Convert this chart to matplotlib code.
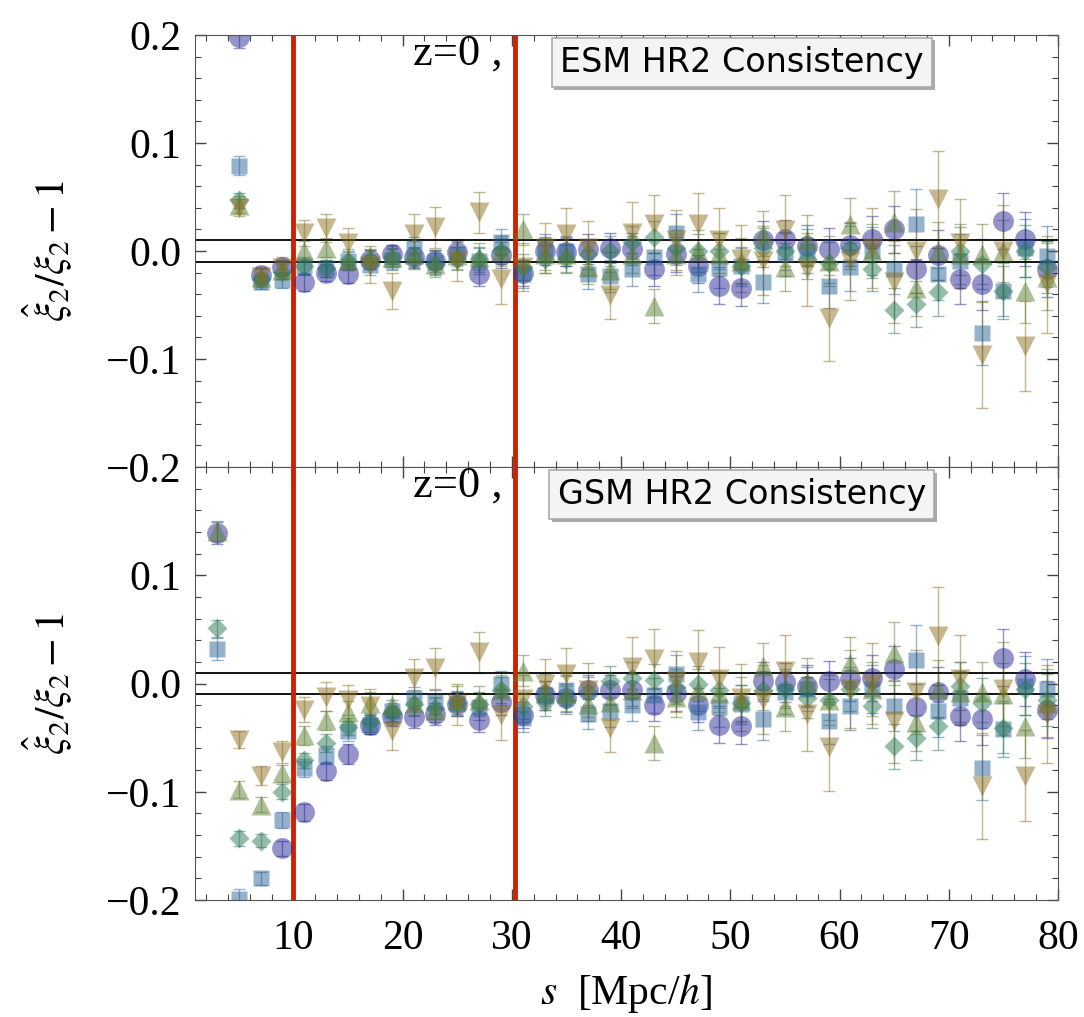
import numpy as np
import matplotlib
matplotlib.use('Agg')
import matplotlib.pyplot as plt
import matplotlib.patheffects as pe
from matplotlib.ticker import MultipleLocator, FuncFormatter

plt.rcParams['font.family'] = ['Liberation Serif', 'DejaVu Serif']
plt.rcParams['mathtext.fontset'] = 'stix'

nan = np.nan
s = [3, 5, 7, 9, 11, 13, 15, 17, 19, 21, 23, 25, 27, 29, 31, 33, 35, 37, 39, 41,
     43, 45, 47, 49, 51, 53, 55, 57, 59, 61, 63, 65, 67, 69, 71, 73, 75, 77, 79]

# ---- ESM (top panel)
esm_circ = [nan, 0.198, -0.022, -0.015, -0.029, -0.020, -0.021, -0.008, -0.003, -0.006,
            -0.009, -0.001, -0.021, -0.004, -0.020, 0.000, -0.001, 0.002, 0.003, 0.002,
            -0.017, -0.003, -0.014, -0.032, -0.034, 0.010, 0.011, 0.005, 0.002, 0.006,
            0.011, 0.020, -0.017, -0.004, -0.026, -0.031, 0.028, 0.011, -0.017]
esm_sq = [nan, 0.079, -0.029, -0.027, -0.014, -0.016, -0.009, -0.013, -0.008, 0.003,
          -0.010, -0.003, -0.009, 0.008, -0.021, 0.003, 0.000, -0.021, -0.023, -0.017,
          -0.006, 0.017, -0.021, -0.016, -0.014, -0.029, -0.003, 0.000, -0.032, -0.015,
          0.000, -0.017, 0.025, -0.021, -0.009, -0.076, -0.037, 0.003, -0.005]
esm_dia = [nan, 0.047, -0.026, -0.019, -0.014, -0.016, -0.009, -0.008, -0.006, -0.007,
           -0.012, -0.007, -0.007, 0.000, -0.015, -0.007, -0.007, -0.003, 0.000, 0.008,
           0.013, 0.003, 0.000, 0.000, -0.014, 0.003, 0.000, -0.007, -0.011, 0.003,
           -0.017, -0.055, -0.049, -0.038, 0.000, -0.012, -0.037, 0.000, -0.015]
esm_up = [nan, 0.043, -0.024, -0.018, 0.000, 0.003, -0.008, -0.005, -0.006, -0.003,
          -0.012, -0.004, -0.006, 0.000, 0.020, -0.003, -0.003, -0.015, -0.018, -0.003,
          -0.051, -0.003, 0.000, -0.003, -0.009, 0.016, -0.015, 0.010, -0.009, 0.025,
          0.000, 0.027, -0.034, 0.000, -0.003, -0.003, 0.000, -0.037, -0.024]
esm_dn = [nan, 0.040, -0.024, -0.016, 0.017, 0.021, 0.007, -0.014, -0.037, 0.016,
          0.022, -0.009, 0.036, -0.026, -0.015, 0.003, 0.016, 0.003, -0.041, 0.017,
          0.025, 0.010, 0.025, 0.010, -0.007, -0.009, 0.019, -0.017, -0.062, -0.009,
          0.003, -0.029, 0.000, 0.048, 0.007, -0.096, 0.000, -0.088, -0.031]

# ---- GSM (bottom panel)
gsm_circ = [0.139, nan, nan, -0.152, -0.119, -0.081, -0.065, -0.038, -0.030, -0.031,
            -0.028, -0.019, -0.034, -0.017, -0.029, -0.011, -0.013, -0.006, -0.006, -0.006,
            -0.020, -0.009, -0.020, -0.038, -0.039, 0.002, 0.001, -0.002, 0.002, 0.004,
            0.005, 0.013, -0.022, -0.008, -0.030, -0.033, 0.024, 0.004, -0.024]
gsm_sq = [0.032, -0.199, -0.180, -0.126, -0.078, -0.066, -0.044, -0.038, -0.025, -0.013,
          -0.017, -0.019, -0.022, 0.000, -0.032, -0.011, -0.006, -0.028, -0.025, -0.020,
          -0.011, 0.009, -0.026, -0.022, -0.019, -0.033, -0.008, -0.005, -0.035, -0.021,
          -0.005, -0.021, 0.022, -0.025, -0.013, -0.078, -0.042, -0.002, -0.005]
gsm_dia = [0.051, -0.143, -0.145, -0.100, -0.071, -0.055, -0.040, -0.036, -0.027, -0.019,
           -0.023, -0.018, -0.019, -0.006, -0.021, -0.017, -0.015, -0.008, 0.002, 0.005,
           0.003, -0.003, 0.000, -0.006, -0.018, -0.006, -0.005, -0.013, -0.015, -0.005,
           -0.021, -0.058, -0.050, -0.039, -0.002, -0.018, -0.041, -0.005, -0.015]
gsm_up = [0.141, -0.098, -0.112, -0.083, -0.048, -0.034, -0.026, -0.018, -0.020, -0.018,
          -0.024, -0.015, -0.015, -0.006, 0.012, -0.006, -0.009, -0.019, -0.017, -0.006,
          -0.055, -0.012, -0.006, -0.009, -0.015, 0.016, -0.022, 0.001, -0.015, 0.019,
          -0.005, 0.028, -0.036, -0.005, -0.008, -0.008, -0.010, -0.039, -0.018]
gsm_dn = [nan, -0.052, -0.085, -0.063, -0.024, -0.012, -0.015, -0.021, -0.044, 0.005,
          0.014, -0.019, 0.029, -0.029, -0.014, 0.000, 0.009, -0.006, -0.041, 0.015,
          0.023, 0.002, 0.020, 0.004, -0.013, -0.015, 0.012, -0.028, -0.059, -0.005,
          0.000, -0.035, -0.008, 0.044, 0.004, -0.095, -0.005, -0.085, -0.028]

# ---- error bars (same in both panels)
err_circ = [0.010, 0.010, 0.006, 0.007, 0.008, 0.008, 0.009, 0.009, 0.009, 0.010,
            0.010, 0.011, 0.011, 0.012, 0.012, 0.013, 0.013, 0.014, 0.014, 0.015,
            0.015, 0.016, 0.016, 0.017, 0.017, 0.018, 0.018, 0.019, 0.019, 0.020,
            0.021, 0.022, 0.022, 0.023, 0.023, 0.024, 0.026, 0.025, 0.026]
err_sq = [0.010, 0.009, 0.006, 0.007, 0.008, 0.008, 0.009, 0.009, 0.010, 0.010,
          0.011, 0.011, 0.012, 0.012, 0.013, 0.013, 0.014, 0.014, 0.015, 0.015,
          0.016, 0.017, 0.017, 0.018, 0.018, 0.019, 0.020, 0.020, 0.021, 0.022,
          0.022, 0.023, 0.032, 0.024, 0.025, 0.030, 0.026, 0.027, 0.028]
err_dia = [0.008, 0.007, 0.006, 0.007, 0.007, 0.008, 0.008, 0.009, 0.009, 0.010,
           0.010, 0.011, 0.011, 0.012, 0.012, 0.013, 0.013, 0.014, 0.014, 0.015,
           0.015, 0.016, 0.016, 0.017, 0.017, 0.018, 0.018, 0.019, 0.019, 0.020,
           0.020, 0.021, 0.021, 0.022, 0.022, 0.023, 0.023, 0.024, 0.024]
err_up = [0.009, 0.008, 0.007, 0.008, 0.009, 0.009, 0.010, 0.010, 0.011, 0.012,
          0.012, 0.013, 0.013, 0.014, 0.014, 0.015, 0.016, 0.016, 0.017, 0.017,
          0.016, 0.019, 0.019, 0.020, 0.021, 0.021, 0.022, 0.023, 0.023, 0.024,
          0.025, 0.029, 0.026, 0.027, 0.028, 0.028, 0.029, 0.030, 0.031]
err_dn = [0.008, 0.008, 0.009, 0.010, 0.012, 0.013, 0.014, 0.016, 0.017, 0.018,
          0.019, 0.019, 0.019, 0.023, 0.022, 0.023, 0.024, 0.025, 0.022, 0.028,
          0.027, 0.028, 0.029, 0.030, 0.031, 0.032, 0.033, 0.034, 0.040, 0.036,
          0.037, 0.038, 0.039, 0.045, 0.041, 0.049, 0.043, 0.042, 0.045]

styles = [('o', 15, '#2a2a99'), ('s', 12, '#2b6699'), ('D', 10, '#2b7a55'),
          ('^', 15, '#5c8033'), ('v', 15, '#8c7020')]

panels = [
    ([esm_circ, esm_sq, esm_dia, esm_up, esm_dn], 'ESM HR2 Consistency'),
    ([gsm_circ, gsm_sq, gsm_dia, gsm_up, gsm_dn], 'GSM HR2 Consistency'),
]
errs = [err_circ, err_sq, err_dia, err_up, err_dn]


def ytick_fmt(v, pos):
    return '{:.1f}'.format(v).replace('-', '\u2212')


fig = plt.figure(figsize=(10.84, 10.17), dpi=100)
ax_top = fig.add_axes([0.180, 0.5408, 0.796, 0.4248])
ax_bot = fig.add_axes([0.180, 0.1150, 0.796, 0.4258], sharex=ax_top)

for ax, (series, label) in zip([ax_top, ax_bot], panels):
    for vals, err, (mk, ms, col) in zip(series, errs, styles):
        ax.errorbar(s, vals, yerr=err, fmt=mk, ms=ms, color=col, mfc=col, mec='none',
                    alpha=0.5, elinewidth=1.0, capsize=4, capthick=1.0)
    ax.axhline(0.01, color='black', lw=1.3)
    ax.axhline(-0.01, color='black', lw=1.3)
    ax.axvline(10, color='#cc2200', lw=3.5)
    ax.axvline(30.3, color='#cc2200', lw=3.5)

    ax.set_xlim(1, 80)
    ax.set_ylim(-0.2, 0.2)
    ax.yaxis.set_major_locator(MultipleLocator(0.1))
    ax.yaxis.set_minor_locator(MultipleLocator(0.02))
    ax.yaxis.set_major_formatter(FuncFormatter(ytick_fmt))
    ax.xaxis.set_major_locator(MultipleLocator(10))
    ax.xaxis.set_minor_locator(MultipleLocator(2))
    ax.tick_params(which='both', direction='in', top=True, right=True, color='#444444')
    ax.tick_params(which='major', length=8, width=1)
    ax.tick_params(which='minor', length=4, width=0.8)
    ax.tick_params(axis='y', labelsize=30, pad=10)
    ax.tick_params(axis='x', labelsize=30, pad=14)
    for sp in ax.spines.values():
        sp.set_color('#555555')
    ax.set_ylabel(r'$\hat{\xi}_2/\xi_2 - 1$', fontsize=30)

    ax.text(25.0, 0.183, 'z=0 ,', fontsize=32, ha='center', va='center')
    t = ax.text(51.05, 0.1745, label, fontsize=24, family='DejaVu Sans', ha='center',
                va='center', bbox=dict(boxstyle='square,pad=0.25', fc='#f4f4f4',
                                       ec='#aaaaaa', lw=1.2))
    t.get_bbox_patch().set_path_effects(
        [pe.SimplePatchShadow(offset=(2, -2), shadow_rgbFace='#aaaaaa', alpha=1.0),
         pe.Normal()])
    ax.yaxis.set_label_coords(-0.14, 0.5)

ax_top.tick_params(axis='x', labelbottom=False)
# the shared border shows only the top panel's -0.2 label
ax_bot.set_yticks([-0.2, -0.1, 0.0, 0.1])
ax_bot.set_xlabel(r'$s$  [Mpc/$h$]', fontsize=30, labelpad=10)

fig.savefig('out.png', dpi=100)
